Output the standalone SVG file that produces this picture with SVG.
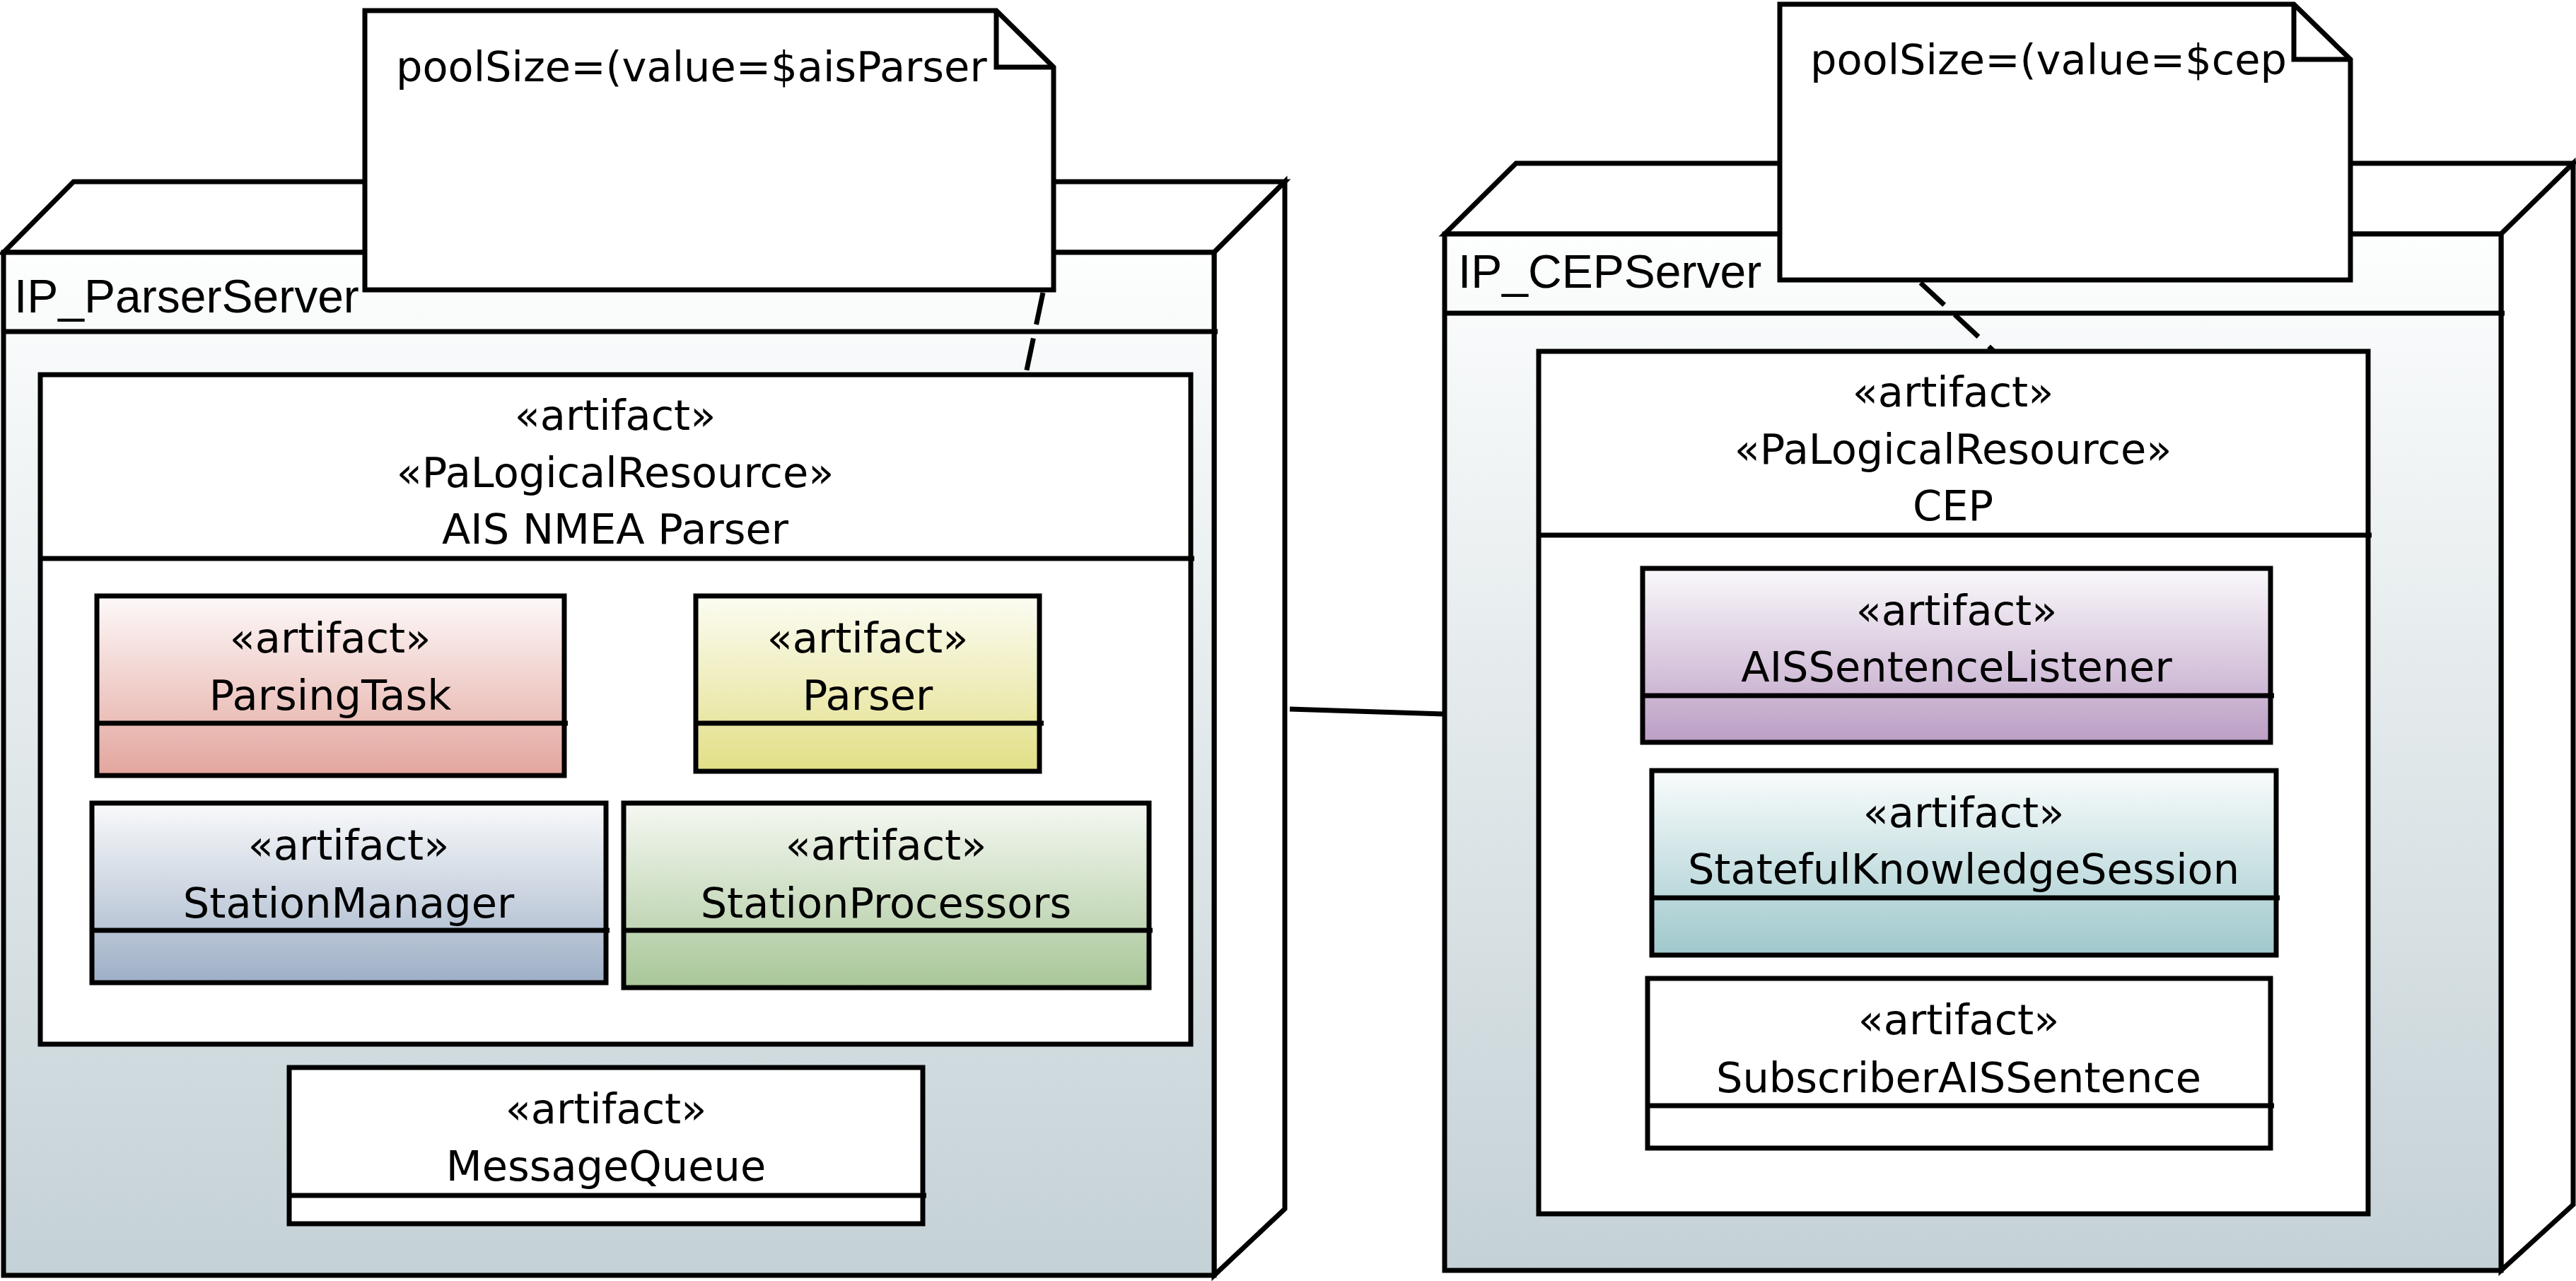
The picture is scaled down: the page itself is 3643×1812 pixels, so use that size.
<svg xmlns="http://www.w3.org/2000/svg" width="3643" height="1812" viewBox="0 0 3643 1812">
<style>
.ln{stroke:#000;stroke-width:7;fill:none}
.sh{stroke:#000;stroke-width:7;stroke-linejoin:miter}
.wf{fill:#fff}
.dash{stroke:#000;stroke-width:7;fill:none;stroke-dasharray:46 20}
.t{font-family:"DejaVu Sans",Verdana,sans-serif;font-size:59px;text-anchor:middle;fill:#000}
.nt{font-family:"DejaVu Sans",Verdana,sans-serif;font-size:59px;fill:#000}
.lbl{font-family:"Liberation Sans",Arial,sans-serif;font-size:66px;fill:#000}
</style>
<defs>
<linearGradient id="gNode" x1="0" y1="0" x2="0" y2="1"><stop offset="0" stop-color="#fdfefe"/><stop offset="1" stop-color="#c4d1d6"/></linearGradient>
<linearGradient id="gRed" x1="0" y1="0" x2="0" y2="1"><stop offset="0" stop-color="#fdf9f9"/><stop offset="1" stop-color="#e3a59d"/></linearGradient>
<linearGradient id="gYel" x1="0" y1="0" x2="0" y2="1"><stop offset="0" stop-color="#fcfcf3"/><stop offset="1" stop-color="#e2df86"/></linearGradient>
<linearGradient id="gBlu" x1="0" y1="0" x2="0" y2="1"><stop offset="0" stop-color="#f9fafb"/><stop offset="1" stop-color="#9eafc6"/></linearGradient>
<linearGradient id="gGrn" x1="0" y1="0" x2="0" y2="1"><stop offset="0" stop-color="#f5f8f2"/><stop offset="1" stop-color="#a8c698"/></linearGradient>
<linearGradient id="gPur" x1="0" y1="0" x2="0" y2="1"><stop offset="0" stop-color="#faf8fb"/><stop offset="1" stop-color="#bb9ec4"/></linearGradient>
<linearGradient id="gCya" x1="0" y1="0" x2="0" y2="1"><stop offset="0" stop-color="#f9fcfc"/><stop offset="1" stop-color="#9fc8cc"/></linearGradient>
</defs>

<g id="IP_ParserServer">
<polygon class="sh wf" points="5,357 104,257 1817,257 1717,357"/>
<polygon class="sh wf" points="1717,357 1817,257 1817,1710 1717,1804"/>
<rect class="sh" x="5" y="357" width="1712" height="1447" fill="url(#gNode)"/>
<line class="ln" x1="5" y1="469" x2="1722" y2="469"/>
<text class="lbl" x="20" y="442">IP_ParserServer</text>
</g>

<g id="AIS_NMEA_Parser">
<rect class="sh wf" x="57" y="530" width="1627" height="947"/>
<line class="ln" x1="57" y1="790" x2="1689" y2="790"/>
<text class="t" x="870" y="608">«artifact»</text>
<text class="t" x="870" y="689">«PaLogicalResource»</text>
<text class="t" x="870" y="769">AIS NMEA Parser</text>
</g>

<g id="ParsingTask">
<rect class="sh" x="137" y="843" width="661" height="254" fill="url(#gRed)"/>
<line class="ln" x1="137" y1="1023" x2="803" y2="1023"/>
<text class="t" x="467" y="923">«artifact»</text>
<text class="t" x="467" y="1004">ParsingTask</text>
</g>

<g id="Parser">
<rect class="sh" x="984" y="843" width="486" height="248" fill="url(#gYel)"/>
<line class="ln" x1="984" y1="1023" x2="1476" y2="1023"/>
<text class="t" x="1227" y="923">«artifact»</text>
<text class="t" x="1227" y="1004">Parser</text>
</g>

<g id="StationManager">
<rect class="sh" x="130" y="1136" width="727" height="254" fill="url(#gBlu)"/>
<line class="ln" x1="130" y1="1316" x2="862" y2="1316"/>
<text class="t" x="493" y="1216">«artifact»</text>
<text class="t" x="493" y="1298">StationManager</text>
</g>

<g id="StationProcessors">
<rect class="sh" x="882" y="1136" width="743" height="261" fill="url(#gGrn)"/>
<line class="ln" x1="882" y1="1316" x2="1630" y2="1316"/>
<text class="t" x="1253" y="1216">«artifact»</text>
<text class="t" x="1253" y="1298">StationProcessors</text>
</g>

<g id="MessageQueue">
<rect class="sh wf" x="409" y="1510" width="896" height="221"/>
<line class="ln" x1="409" y1="1691" x2="1310" y2="1691"/>
<text class="t" x="857" y="1589">«artifact»</text>
<text class="t" x="857" y="1670">MessageQueue</text>
</g>

<g id="IP_CEPServer">
<polygon class="sh wf" points="2043,331 2144,231 3639,231 3537,331"/>
<polygon class="sh wf" points="3537,331 3639,231 3639,1704 3537,1797"/>
<rect class="sh" x="2043" y="331" width="1494" height="1466" fill="url(#gNode)"/>
<line class="ln" x1="2043" y1="443" x2="3542" y2="443"/>
<text class="lbl" x="2062" y="407">IP_CEPServer</text>
</g>

<g id="CEP">
<rect class="sh wf" x="2176" y="497" width="1173" height="1220"/>
<line class="ln" x1="2176" y1="757" x2="3354" y2="757"/>
<text class="t" x="2762" y="575">«artifact»</text>
<text class="t" x="2762" y="656">«PaLogicalResource»</text>
<text class="t" x="2762" y="736">CEP</text>
</g>

<g id="AISSentenceListener">
<rect class="sh" x="2323" y="804" width="888" height="246" fill="url(#gPur)"/>
<line class="ln" x1="2323" y1="984" x2="3216" y2="984"/>
<text class="t" x="2767" y="884">«artifact»</text>
<text class="t" x="2767" y="964">AISSentenceListener</text>
</g>

<g id="StatefulKnowledgeSession">
<rect class="sh" x="2336" y="1090" width="883" height="261" fill="url(#gCya)"/>
<line class="ln" x1="2336" y1="1270" x2="3224" y2="1270"/>
<text class="t" x="2777" y="1170">«artifact»</text>
<text class="t" x="2777" y="1250">StatefulKnowledgeSession</text>
</g>

<g id="SubscriberAISSentence">
<rect class="sh wf" x="2330" y="1384" width="881" height="240"/>
<line class="ln" x1="2330" y1="1564" x2="3216" y2="1564"/>
<text class="t" x="2770" y="1463">«artifact»</text>
<text class="t" x="2770" y="1545">SubscriberAISSentence</text>
</g>

<g id="connectors">
<line class="ln" x1="1824" y1="1003" x2="2043" y2="1010"/>
<line class="dash" x1="1475" y1="414" x2="1451" y2="528"/>
<line class="dash" x1="2716" y1="400" x2="2820" y2="497"/>
</g>

<g id="note_aisParser">
<polygon class="sh wf" points="516,15 1409,15 1490,95 1490,410 516,410"/>
<polyline class="ln" points="1409,15 1409,95 1490,95"/>
<text class="nt" x="560" y="115">poolSize=(value=$aisParser</text>
</g>

<g id="note_cep">
<polygon class="sh wf" points="2517,6 3244,6 3324,84 3324,396 2517,396"/>
<polyline class="ln" points="3244,6 3244,84 3324,84"/>
<text class="nt" x="2560" y="105">poolSize=(value=$cep</text>
</g>
</svg>
